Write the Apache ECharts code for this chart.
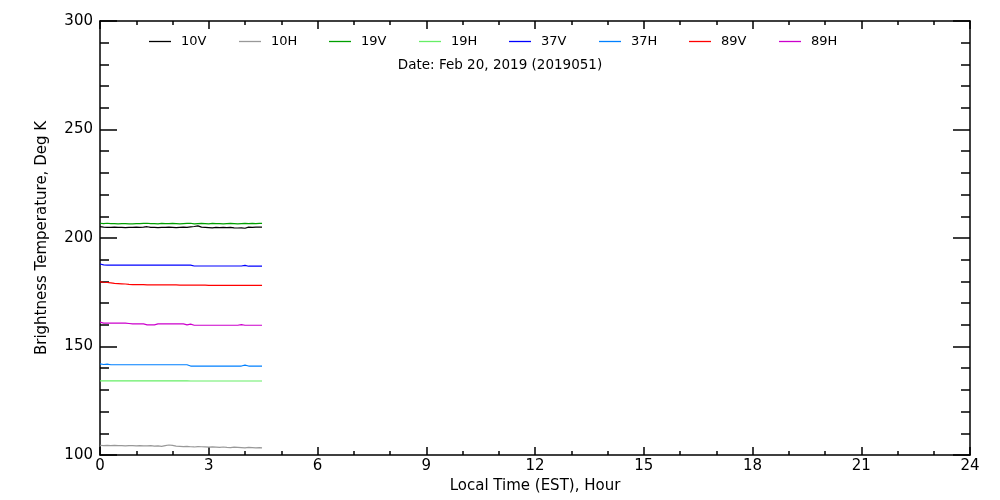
<!DOCTYPE html>
<html><head><meta charset="utf-8">
<script src="https://cdn.jsdelivr.net/npm/echarts@6/dist/echarts.min.js"></script>
<style>html,body{margin:0;padding:0;background:#fff}#c{width:1000px;height:500px}</style>
</head><body><div id="c"></div>
<script>
const seriesNames = ['10V','10H','19V','19H','37V','37H','89V','89H'];
const seriesColors = ['#000000','#999999','#00a000','#66ee66','#0000ff','#0080ff','#ff0000','#cc00cc'];
const hours = [0,0.1,0.2,0.3,0.4,0.5,0.6,0.7,0.8,0.9,1.0,1.1,1.2,1.3,1.4,1.5,1.6,1.7,1.8,1.9,2.0,2.1,2.2,2.3,2.4,2.5,2.6,2.7,2.8,2.9,3.0,3.1,3.2,3.3,3.4,3.5,3.6,3.7,3.8,3.9,4.0,4.1,4.2,4.3,4.4,4.47];
const tb10V = [205.2,205.0,204.9,204.9,205.0,204.9,204.9,204.8,204.9,204.9,205.0,204.9,205.0,205.2,204.9,204.9,204.8,204.9,204.9,205.0,204.9,204.8,204.9,205.0,204.9,205.1,205.3,205.6,205.0,204.9,204.8,204.7,204.9,204.8,204.9,204.8,204.9,204.7,204.6,204.7,204.5,205.0,204.9,205.0,205.0,205.0];
const tb10H = [104.5,104.3,104.4,104.3,104.4,104.3,104.3,104.2,104.3,104.3,104.2,104.3,104.2,104.2,104.3,104.1,104.2,104.0,104.3,104.6,104.4,104.1,104.0,103.9,104.0,103.8,103.7,103.9,103.8,103.7,103.6,103.7,103.6,103.5,103.7,103.5,103.4,103.6,103.5,103.4,103.3,103.5,103.4,103.3,103.4,103.3];
const tb19V = [206.8,206.6,206.8,206.6,206.6,206.5,206.6,206.6,206.5,206.5,206.6,206.6,206.7,206.8,206.6,206.6,206.5,206.7,206.6,206.6,206.7,206.6,206.5,206.6,206.7,206.8,206.5,206.6,206.7,206.6,206.5,206.7,206.6,206.6,206.5,206.6,206.7,206.6,206.5,206.6,206.7,206.6,206.7,206.6,206.7,206.7];
const tb19H = [134.2,134.2,134.2,134.2,134.2,134.2,134.2,134.2,134.2,134.2,134.2,134.2,134.2,134.2,134.2,134.2,134.2,134.2,134.2,134.2,134.2,134.2,134.2,134.2,134.2,134.1,134.1,134.1,134.1,134.1,134.1,134.1,134.1,134.1,134.1,134.1,134.1,134.1,134.1,134.1,134.1,134.1,134.1,134.1,134.1,134.1];
const tb37V = [188.0,187.6,187.5,187.5,187.5,187.5,187.5,187.5,187.5,187.5,187.5,187.5,187.5,187.5,187.5,187.5,187.5,187.5,187.5,187.5,187.5,187.5,187.5,187.5,187.5,187.5,187.1,187.1,187.1,187.1,187.1,187.1,187.1,187.1,187.1,187.1,187.1,187.1,187.1,187.1,187.4,187.0,187.0,187.0,187.0,187.0];
const tb37H = [142.0,141.7,141.9,141.6,141.6,141.6,141.6,141.6,141.6,141.6,141.6,141.6,141.6,141.6,141.6,141.6,141.6,141.6,141.6,141.6,141.6,141.6,141.6,141.6,141.6,141.0,141.0,141.0,141.0,141.0,141.0,141.0,141.0,141.0,141.0,141.0,141.0,141.0,141.0,141.0,141.4,141.0,141.0,141.0,141.0,141.0];
const tb89V = [179.8,179.6,179.5,179.3,179.1,179.0,178.9,178.8,178.6,178.5,178.5,178.5,178.5,178.4,178.4,178.4,178.4,178.4,178.4,178.4,178.4,178.4,178.3,178.3,178.3,178.3,178.3,178.3,178.3,178.3,178.2,178.2,178.2,178.2,178.2,178.2,178.2,178.2,178.2,178.2,178.2,178.2,178.2,178.2,178.2,178.2];
const tb89H = [161.2,160.8,160.8,160.8,160.8,160.8,160.8,160.8,160.6,160.4,160.4,160.4,160.4,160.0,160.0,160.0,160.4,160.4,160.4,160.4,160.4,160.4,160.4,160.4,160.0,160.3,159.8,159.8,159.8,159.8,159.8,159.8,159.8,159.8,159.8,159.8,159.8,159.8,159.8,160.1,159.8,159.8,159.8,159.8,159.8,159.8];
const xTicks = [0,3,6,9,12,15,18,21,24];
const yTicks = [100,150,200,250,300];
const dateText = 'Date: Feb 20, 2019 (2019051)';

const allData = [tb10V,tb10H,tb19V,tb19H,tb37V,tb37H,tb89V,tb89H];
const FONT = 'DejaVu Sans';
const chart = echarts.init(document.getElementById('c'), null, {renderer:'canvas'});
const axLine = {show:true, onZero:false, lineStyle:{color:'#000', width:1.5}};
const series = seriesNames.map((n,i)=>({
  name:n, type:'line', xAxisIndex:0, yAxisIndex:0, showSymbol:false, symbol:'none',
  animation:false, lineStyle:{color:seriesColors[i], width:1.2}, itemStyle:{color:seriesColors[i]},
  data: hours.map((h,j)=>[h, allData[i][j]])
}));
const legends = seriesNames.map((n,i)=>({
  data:[n], left:149+90*i, top:35, icon:'rect', itemWidth:22, itemHeight:1.3, itemGap:0,
  textStyle:{fontFamily:FONT, fontSize:13, color:'#000', padding:[0,0,0,5]}, selectedMode:false, padding:0
}));
chart.setOption({
  animation:false,
  backgroundColor:'#fff',
  legend: legends,
  title:{text:dateText, left:'center', top:58, textStyle:{fontFamily:FONT, fontSize:13.5, fontWeight:'normal', color:'#000'}, padding:0},
  grid:{left:100, right:30, top:21, bottom:45},
  xAxis:[
    {type:'value', min:0, max:24, interval:3, position:'bottom', axisLine:axLine,
     axisTick:{inside:true, length:8, lineStyle:{color:'#000', width:1.5}},
     minorTick:{show:true, splitNumber:3, length:4, lineStyle:{color:'#000', width:1.5}},
     splitLine:{show:false},
     axisLabel:{fontFamily:FONT, fontSize:15, color:'#000', margin:4, formatter:v=>xTicks.includes(v)?String(v):''},
     name:'Local Time (EST), Hour', nameLocation:'middle', nameGap:17,
     nameTextStyle:{fontFamily:FONT, fontSize:15, color:'#000'}},
    {type:'value', min:0, max:24, interval:3, position:'top', axisLine:axLine,
     axisTick:{inside:true, length:8, lineStyle:{color:'#000', width:1.5}},
     minorTick:{show:true, splitNumber:3, length:4, lineStyle:{color:'#000', width:1.5}},
     splitLine:{show:false}, axisLabel:{show:false}}
  ],
  yAxis:[
    {type:'value', min:100, max:300, interval:50, position:'left', axisLine:axLine,
     axisTick:{inside:true, length:17, lineStyle:{color:'#000', width:1.5}},
     minorTick:{show:true, splitNumber:5, length:9, lineStyle:{color:'#000', width:1.5}},
     splitLine:{show:false},
     axisLabel:{fontFamily:FONT, fontSize:15, color:'#000', margin:7, formatter:v=>yTicks.includes(v)?String(v):''},
     name:'Brightness Temperature, Deg K', nameLocation:'middle', nameGap:50, nameRotate:90,
     nameTextStyle:{fontFamily:FONT, fontSize:15, color:'#000'}},
    {type:'value', min:100, max:300, interval:50, position:'right', axisLine:axLine,
     axisTick:{inside:true, length:17, lineStyle:{color:'#000', width:1.5}},
     minorTick:{show:true, splitNumber:5, length:9, lineStyle:{color:'#000', width:1.5}},
     splitLine:{show:false}, axisLabel:{show:false}}
  ],
  series: series
});
</script></body></html>
